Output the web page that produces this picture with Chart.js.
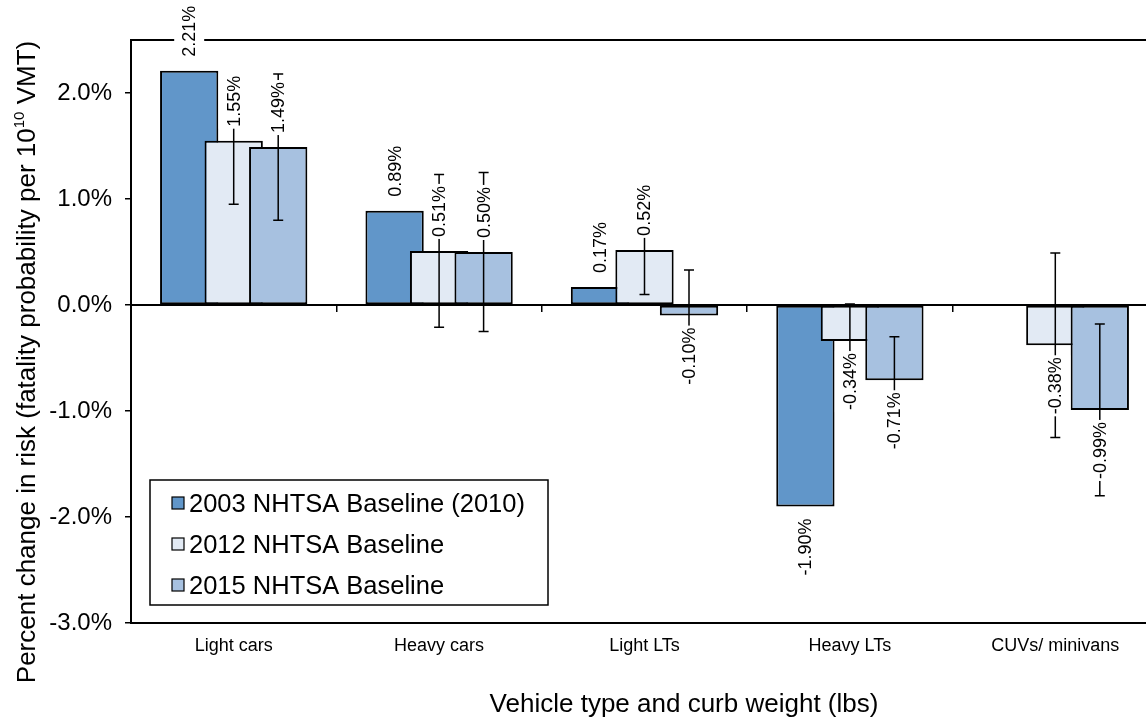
<!DOCTYPE html>
<html>
<head>
<meta charset="utf-8">
<script src="https://cdn.jsdelivr.net/npm/chart.js@4.4.1/dist/chart.umd.min.js"></script>
<style>
  html, body { margin: 0; padding: 0; overflow: hidden; background: #fff; }
  #wrap { width: 1162px; height: 719px; }
</style>
</head>
<body>
<div id="wrap"><canvas id="riskChart" width="1162" height="719"></canvas></div>
<script>
const categories = ["Light cars", "Heavy cars", "Light LTs", "Heavy LTs", "CUVs/ minivans"];
const seriesNames = ["2003 NHTSA Baseline (2010)", "2012 NHTSA Baseline", "2015 NHTSA Baseline"];
const baseline2003 = [2.21, 0.89, 0.17, -1.90, null];
const baseline2012 = [1.55, 0.51, 0.52, -0.34, -0.38];
const baseline2015 = [1.49, 0.50, -0.10, -0.71, -0.99];
// half-width of the error bars (percentage points); 2003 has none
const error2012 = [0.60, 0.72, 0.42, 0.35, 0.87];
const error2015 = [0.69, 0.75, 0.43, 0.41, 0.81];
const yTicks = [-3, -2, -1, 0, 1, 2];
const seriesColors = ["#6196C9", "#E2EAF4", "#A7C1E0"];

const FONT = '"Liberation Sans", Arial, sans-serif';

function drawErrorBars(chart) {
    const ctx = chart.ctx;
    const yScale = chart.scales.y;
    [[1, error2012], [2, error2015]].forEach(([di, errs]) => {
        const meta = chart.getDatasetMeta(di);
        const values = chart.data.datasets[di].data;
        meta.data.forEach((bar, i) => {
            if (values[i] == null || errs[i] == null) return;
            const top = yScale.getPixelForValue(values[i] + errs[i]);
            const bot = yScale.getPixelForValue(values[i] - errs[i]);
            ctx.save();
            ctx.strokeStyle = "#000";
            ctx.lineWidth = 1.5;
            ctx.beginPath();
            ctx.moveTo(bar.x, top);
            ctx.lineTo(bar.x, bot);
            ctx.moveTo(bar.x - 5, top);
            ctx.lineTo(bar.x + 5, top);
            ctx.moveTo(bar.x - 5, bot);
            ctx.lineTo(bar.x + 5, bot);
            ctx.stroke();
            ctx.restore();
        });
    });
}

// valeurs verticales avec fond blanc, comme dans Excel
function drawValueLabels(chart) {
    const ctx = chart.ctx;
    chart.data.datasets.forEach((ds, di) => {
        const meta = chart.getDatasetMeta(di);
        meta.data.forEach((bar, i) => {
            const v = ds.data[i];
            if (v == null) return;
            const txt = v.toFixed(2) + "%";
            ctx.save();
            ctx.font = "18px " + FONT;
            const w = ctx.measureText(txt).width;
            const positive = v >= 0;
            ctx.translate(bar.x, positive ? bar.y - 14 : bar.y + 12);
            ctx.rotate(-Math.PI / 2);
            const x0 = positive ? 0 : -w;
            ctx.fillStyle = "#fff";
            ctx.fillRect(x0 - 2, -15, w + 4, 30);
            ctx.fillStyle = "#000";
            ctx.textAlign = "left";
            ctx.textBaseline = "middle";
            ctx.fillText(txt, x0, 1);
            ctx.restore();
        });
    });
}

function drawLegend(chart) {
    const ctx = chart.ctx;
    const area = chart.chartArea;
    const left = area.left + 19;
    const top = 480;
    ctx.save();
    ctx.fillStyle = "#fff";
    ctx.fillRect(left, top, 398, 125);
    ctx.strokeStyle = "#000";
    ctx.lineWidth = 1.5;
    ctx.strokeRect(left, top, 398, 125);
    ctx.font = "25.5px " + FONT;
    ctx.textBaseline = "middle";
    ctx.textAlign = "left";
    chart.data.datasets.forEach((ds, k) => {
        const cy = top + 24 + k * 41;
        ctx.fillStyle = ds.backgroundColor;
        ctx.fillRect(left + 22, cy - 7, 12, 12);
        ctx.lineWidth = 1.2;
        ctx.strokeRect(left + 22, cy - 7, 12, 12);
        ctx.fillStyle = "#000";
        ctx.fillText(ds.label, left + 39, cy + 1);
    });
    ctx.restore();
}

function drawAxisTitles(chart) {
    const ctx = chart.ctx;
    ctx.save();
    ctx.fillStyle = "#000";
    ctx.textBaseline = "middle";
    ctx.font = "26px " + FONT;
    ctx.textAlign = "center";
    ctx.fillText("Vehicle type and curb weight (lbs)", 684, 705);

    // titre vertical avec exposant 10^10
    const partA = "Percent change in risk (fatality probability per 10";
    const sup = "10";
    const partB = " VMT)";
    const big = "26px " + FONT;
    const small = "15px " + FONT;
    ctx.font = big;
    const wA = ctx.measureText(partA).width;
    const wB = ctx.measureText(partB).width;
    ctx.font = small;
    const wS = ctx.measureText(sup).width;
    const total = wA + wS + wB;
    ctx.translate(28, 362);
    ctx.rotate(-Math.PI / 2);
    ctx.textAlign = "left";
    let x = -total / 2;
    ctx.font = big;
    ctx.fillText(partA, x, 0);
    x += wA;
    ctx.font = small;
    ctx.fillText(sup, x, -8);
    x += wS;
    ctx.font = big;
    ctx.fillText(partB, x, 0);
    ctx.restore();
}

const excelBarsPlugin = {
    id: "excelBars",
    beforeDatasetsDraw(chart) {
        const ctx = chart.ctx;
        const area = chart.chartArea;
        // top border of the plot area
        ctx.save();
        ctx.strokeStyle = "#000";
        ctx.lineWidth = 2;
        ctx.beginPath();
        ctx.moveTo(area.left, area.top);
        ctx.lineTo(area.right, area.top);
        ctx.stroke();
        ctx.restore();
        // draw series left to right so each bar overlaps the previous one
        chart.getSortedVisibleDatasetMetas().forEach((meta) => meta.controller.draw());
        drawErrorBars(chart);
        return false;
    },
    afterDraw(chart) {
        drawValueLabels(chart);
        drawLegend(chart);
        drawAxisTitles(chart);
    },
};

const datasets = [baseline2003, baseline2012, baseline2015].map((values, k) => ({
    label: seriesNames[k],
    data: values,
    xAxisID: "x",
    backgroundColor: seriesColors[k],
    borderColor: "#000",
    borderWidth: 2,
    borderSkipped: false,
}));

const ctx = document.getElementById("riskChart").getContext("2d");
new Chart(ctx, {
    type: "bar",
    data: {
        labels: categories,
        datasets: datasets,
    },
    options: {
        responsive: false,
        animation: false,
        layout: { padding: { top: 40, right: 4, left: 0, bottom: 0 } },
        datasets: {
            bar: { categoryPercentage: 0.65, barPercentage: 1.31 },
        },
        plugins: {
            legend: { display: false },
            tooltip: { enabled: false },
        },
        scales: {
            x: {
                position: "bottom",
                grid: { display: false },
                border: { display: true, color: "#000", width: 2 },
                ticks: {
                    color: "#000",
                    font: { size: 18, family: FONT },
                    padding: 4,
                    maxRotation: 0,
                    autoSkip: false,
                },
                afterFit(scale) {
                    scale.height = 96;
                },
            },
            xZero: {
                type: "category",
                position: { y: 0 },
                offset: true,
                grid: {
                    offset: true,
                    drawOnChartArea: false,
                    drawTicks: true,
                    tickLength: 6,
                    color: "#000",
                    lineWidth: 1.5,
                },
                border: { display: true, color: "#000", width: 2, z: 1 },
                ticks: { display: false },
            },
            y: {
                min: -3,
                max: 2.5,
                afterBuildTicks(scale) {
                    scale.ticks = yTicks.map((v) => ({ value: v }));
                },
                ticks: {
                    color: "#000",
                    font: { size: 24, family: FONT },
                    padding: 13,
                    callback: (v) => v.toFixed(1) + "%",
                },
                grid: {
                    drawOnChartArea: false,
                    drawTicks: true,
                    tickLength: 6,
                    color: "#000",
                    lineWidth: 1.5,
                },
                border: { display: true, color: "#000", width: 2 },
                afterFit(scale) {
                    scale.width = 131;
                },
            },
        },
    },
    plugins: [excelBarsPlugin],
});
</script>
</body>
</html>
